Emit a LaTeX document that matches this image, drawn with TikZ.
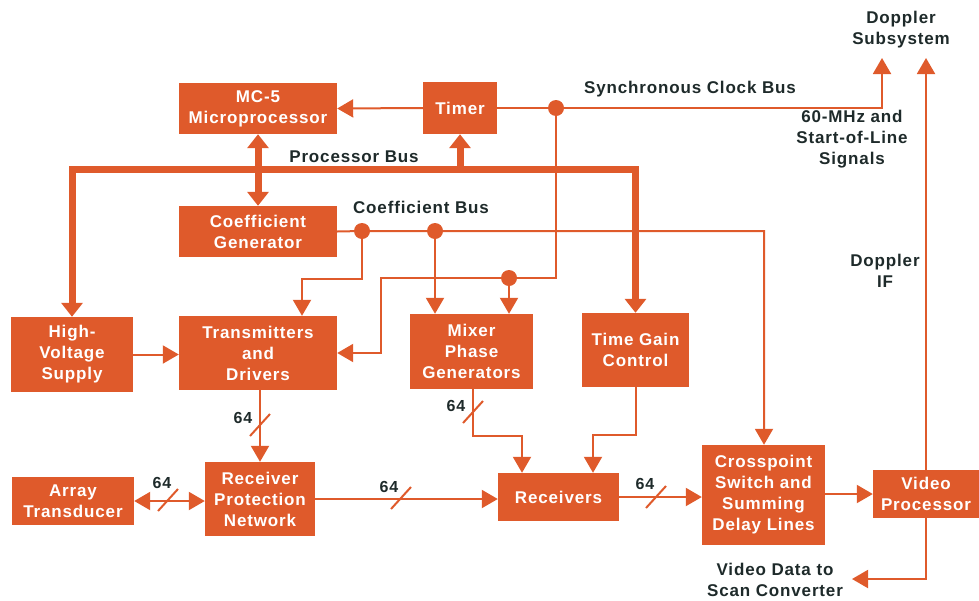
\documentclass[tikz,border=0pt]{standalone}
\usepackage{fontspec}
\setmainfont{Liberation Sans}[LetterSpace=5]
\usetikzlibrary{arrows.meta}
\definecolor{orng}{HTML}{DF5A2B}
\definecolor{ink}{HTML}{1E2A2A}
\begin{document}
\begin{tikzpicture}[x=1pt,y=-1pt,
  box/.style={fill=orng, text=white, align=center, inner sep=0pt,
    font=\fontsize{17}{21}\selectfont\bfseries},
  lbl/.style={text=ink, align=center, inner sep=0pt,
    font=\fontsize{17}{21}\selectfont\bfseries},
  num/.style={text=ink, inner sep=0pt, font=\fontsize{16}{19}\selectfont\bfseries},
  wire/.style={draw=orng, line width=2pt},
  arr/.style={wire, -{Triangle[length=16pt,width=18pt]}},
  darr/.style={wire, {Triangle[length=16pt,width=18pt]}-{Triangle[length=16pt,width=18pt]}},
  bus/.style={draw=orng, line width=7pt},
  busarr/.style={bus, -{Triangle[length=14pt,width=21pt]}},
  busdarr/.style={bus, {Triangle[length=14pt,width=21pt]}-{Triangle[length=14pt,width=21pt]}},
  dot/.style={fill=orng}
]
\useasboundingbox (0,0) rectangle (979,600);

% boxes
\node[box, minimum width=158pt, minimum height=51pt] (mc5) at (258,108.5) {MC-5\\Microprocessor};
\node[box, minimum width=74pt, minimum height=52pt] (timer) at (460,108) {Timer};
\node[box, minimum width=158pt, minimum height=51pt] (coef) at (258,231.5) {Coefficient\\Generator};
\node[box, minimum width=122pt, minimum height=75pt] (hv) at (72,354.5) {High-\\Voltage\\Supply};
\node[box, minimum width=158pt, minimum height=74pt] (tx) at (258,353) {Transmitters\\and\\Drivers};
\node[box, minimum width=123pt, minimum height=75pt] (mix) at (471.5,351.5) {Mixer\\Phase\\Generators};
\node[box, minimum width=107pt, minimum height=74pt] (tgc) at (635.5,350) {Time Gain\\Control};
\node[box, minimum width=122pt, minimum height=48pt] (arrt) at (73,501) {Array\\Transducer};
\node[box, minimum width=110pt, minimum height=74pt] (rpn) at (260,499) {Receiver\\Protection\\Network};
\node[box, minimum width=121pt, minimum height=48pt] (rcv) at (558.5,497) {Receivers};
\node[box, minimum width=123pt, minimum height=100pt] (xpt) at (763.5,495) {Crosspoint\\Switch and\\Summing\\Delay Lines};
\node[box, minimum width=106pt, minimum height=48pt] (vp) at (926,494) {Video\\Processor};

% coordinates
\coordinate (pbL) at (72,169);
\coordinate (pbR) at (635.5,169);
\coordinate (d1) at (556,108);
\coordinate (dopA) at (882,58);
\coordinate (d2) at (509,278);
\coordinate (cb) at (381,278);
\coordinate (c1) at (362,231);
\coordinate (c2) at (435,231);
\coordinate (ce) at (764,231);
\coordinate (cc) at (302,279);
\coordinate (difA) at (926,58);
\coordinate (mr) at (473,436);
\coordinate (mr2) at (522,436);
\coordinate (tr) at (593,435);
\coordinate (vd) at (852,579);

% processor bus
\draw[busdarr] (hv.north) -- (pbL) -- (pbR) -- (tgc.north);
\draw[busdarr] (mc5.south) -- (coef.north);
\draw[busarr] (timer.south |- pbL) -- (timer.south);

% timer and synchronous clock bus
\draw[arr] (timer.west) -- (mc5.east);
\draw[arr] (timer.east) -- (d1) -- (dopA |- d1) -- (dopA);
\draw[wire] (d1) -- (d1 |- d2) -- (d2);
\draw[arr] (d2) -- (d2 |- mix.north);
\draw[arr] (d2) -- (cb) -- (cb |- tx.east) -- (tx.east);
\fill[dot] (d1) circle (8pt);
\fill[dot] (d2) circle (8pt);

% coefficient bus
\draw[arr] (coef.east) -- (c1) -- (c2) -- (ce) -- (ce |- xpt.north);
\draw[arr] (c1) -- (c1 |- cc) -- (cc) -- (cc |- tx.north);
\draw[arr] (c2) -- (c2 |- mix.north);
\fill[dot] (c1) circle (8pt);
\fill[dot] (c2) circle (8pt);

% doppler IF
\draw[arr] (vp.north) -- (difA);

% signal path
\draw[arr] (hv.east) -- (tx.west |- hv.east);
\draw[arr] (rpn.north |- tx.south) -- (rpn.north);
\draw[darr] (arrt.east) -- (rpn.west |- arrt.east);
\draw[arr] (rpn.east) -- (rcv.west |- rpn.east);
\draw[arr] (mix.south -| mr) -- (mr) -- (mr2) -- (mr2 |- rcv.north);
\draw[arr] (tgc.south) -- (tgc.south |- tr) -- (tr) -- (tr |- rcv.north);
\draw[arr] (rcv.east) -- (xpt.west |- rcv.east);
\draw[arr] (xpt.east |- vp.west) -- (vp.west);
\draw[arr] (vp.south) -- (vp.south |- vd) -- (vd);

% bundle slashes
\draw[wire] (260,425) ++(-10,11) -- ++(20,-22);
\draw[wire] (168,500) ++(-10,11) -- ++(20,-22);
\draw[wire] (401,498) ++(-10,11) -- ++(20,-22);
\draw[wire] (473,412) ++(-10,11) -- ++(20,-22);
\draw[wire] (656,497) ++(-10,11) -- ++(20,-22);

% labels
\node[num] (n1) at (243,418) {64};
\node[num] (n2) at (162,483) {64};
\node[num] (n3) at (389,487) {64};
\node[num] (n4) at (456,406) {64};
\node[num] (n5) at (645,484) {64};

\node[lbl] (ldop) at (901,30) {Doppler\\Subsystem};
\node[lbl] (lsync) at (690,89) {Synchronous Clock Bus};
\node[lbl] (lsig) at (852,139) {60-MHz and\\Start-of-Line\\Signals};
\node[lbl] (lif) at (885,271) {Doppler\\IF};
\node[lbl] (lpb) at (354,157) {Processor Bus};
\node[lbl] (lcb) at (421,207) {Coefficient Bus};
\node[lbl] (lvd) at (775,580) {Video Data to\\Scan Converter};
\end{tikzpicture}
\end{document}
